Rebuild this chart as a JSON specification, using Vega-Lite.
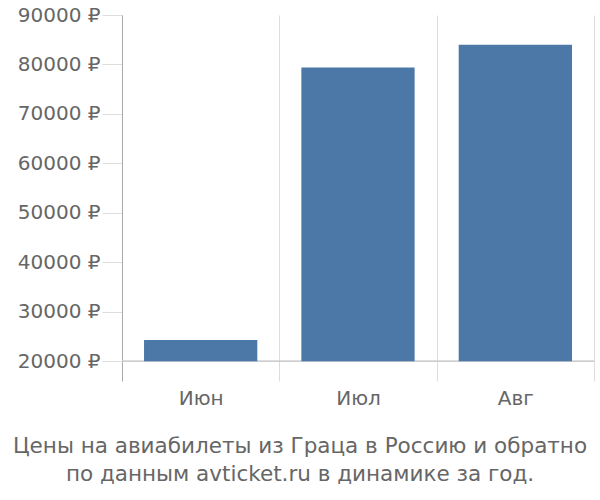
{
  "$schema": "https://vega.github.io/schema/vega-lite/v6.json",
  "width": 472,
  "height": 366,
  "autosize": "none",
  "padding": {"left": 122, "top": 15, "right": 6, "bottom": 119},
  "config": {"view": {"stroke": null}, "font": "DejaVu Sans"},
  "title": {
    "text": ["Цены на авиабилеты из Граца в Россию и обратно", "по данным avticket.ru в динамике за год."],
    "orient": "bottom",
    "anchor": "middle",
    "frame": "group",
    "dx": -58,
    "offset": 28,
    "fontSize": 21.5,
    "fontWeight": "normal",
    "color": "#666",
    "lineHeight": 28
  },
  "data": {
    "values": [
      {"month": "Июн", "price": 24300},
      {"month": "Июл", "price": 79400},
      {"month": "Авг", "price": 84000}
    ]
  },
  "layer": [
    {
      "mark": {"type": "rule", "color": "#ccc"},
      "encoding": {"y": {"datum": 20000}}
    },
    {
      "mark": {"type": "bar", "color": "#4c78a8", "width": {"band": 0.72}},
      "encoding": {
        "x": {
          "field": "month",
          "type": "nominal",
          "sort": null,
          "scale": {"paddingInner": 0, "paddingOuter": 0},
          "axis": {
            "title": null,
            "domain": false,
            "ticks": false,
            "grid": true,
            "tickBand": "extent",
            "gridColor": "#ddd",
            "labelAngle": 0,
            "labelFontSize": 20,
            "labelColor": "#666",
            "labelPadding": 7
          }
        },
        "y": {
          "field": "price",
          "type": "quantitative",
          "scale": {"domain": [16000, 90000], "nice": false, "zero": false},
          "axis": {
            "title": null,
            "values": [20000, 30000, 40000, 50000, 60000, 70000, 80000, 90000],
            "format": "d",
            "labelExpr": "datum.label + ' ₽'",
            "domainColor": "#aaa",
            "tickColor": "#ddd",
            "tickSize": 20,
            "gridColor": "#ddd",
            "labelFontSize": 20,
            "labelColor": "#666",
            "labelPadding": 2
          }
        },
        "y2": {"datum": 20000}
      }
    }
  ]
}
